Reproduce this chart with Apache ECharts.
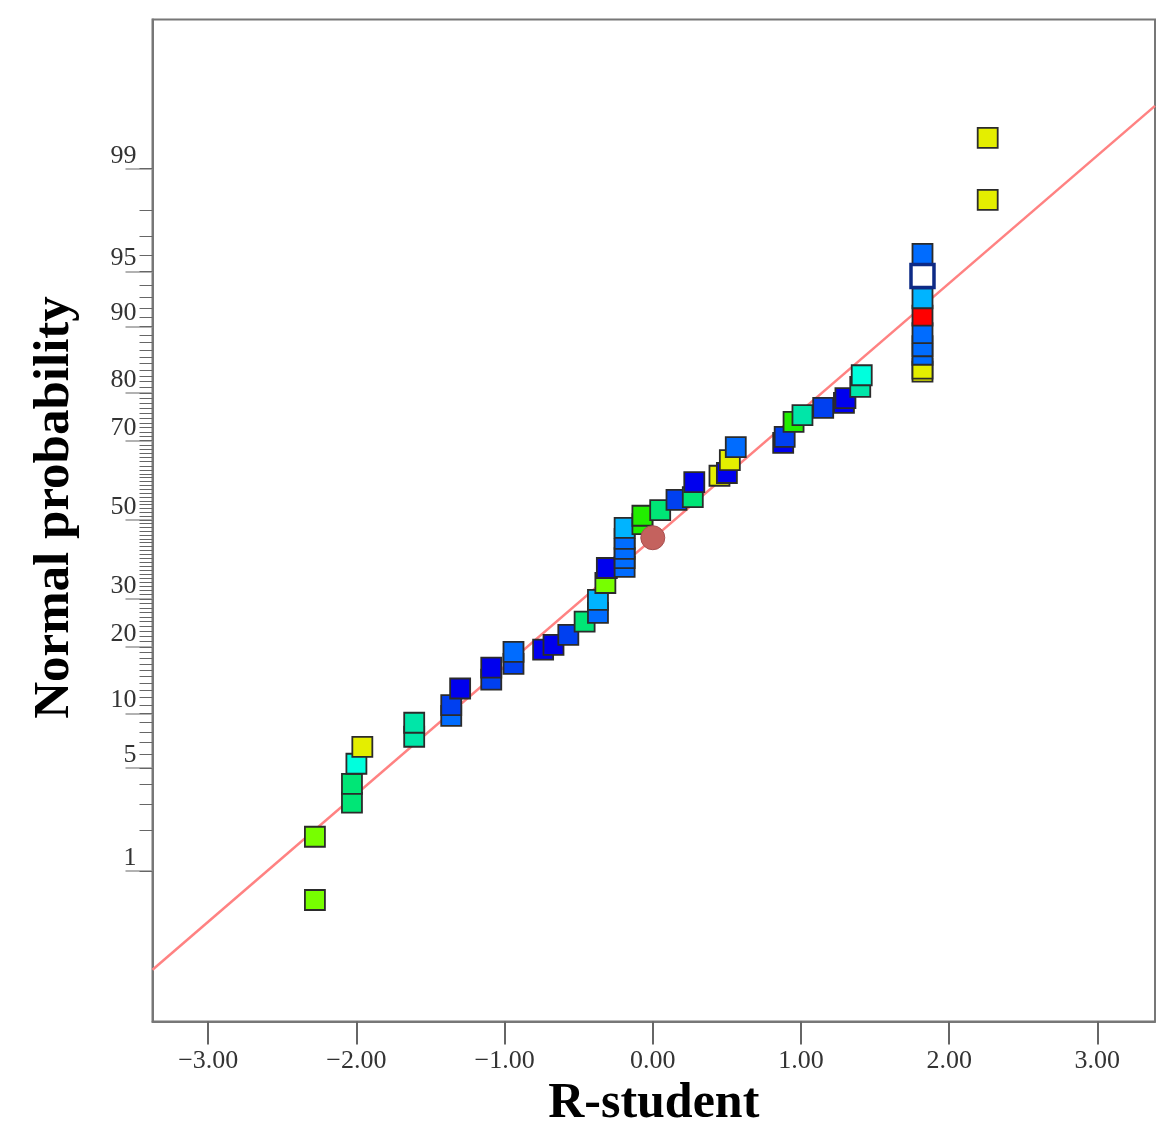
<!DOCTYPE html>
<html>
<head>
<meta charset="utf-8">
<title>Normal probability plot</title>
<script src="https://cdn.jsdelivr.net/npm/echarts@6/dist/echarts.min.js"></script>
<style>
  html, body { margin: 0; padding: 0; background: #fff; }
  #chart { width: 1176px; height: 1140px; }
</style>
</head>
<body>
<div id="chart"></div>
<script>
// residuals (R-student)
var rStudent = [
  -2.28, -2.28, -2.03, -2.03, -2.00, -1.96, -1.61, -1.61, -1.36, -1.36,
  -1.30, -1.09, -1.09, -0.94, -0.94, -0.74, -0.67, -0.57, -0.46, -0.37,
  -0.37, -0.32, -0.31, -0.19, -0.19, -0.19, -0.19, -0.19, -0.07, -0.07,
  0.05, 0.16, 0.27, 0.28, 0.45, 0.50, 0.52, 0.56, 0.88, 0.89,
  0.95, 1.01, 1.15, 1.29, 1.30, 1.40, 1.41, 1.82, 1.82, 1.82,
  1.82, 1.82, 1.82, 1.82, 1.82, 2.26, 2.26
];
// normal probability (%) of each point
var normProb = [
  0.59, 1.79, 3.05, 4.02, 5.31, 6.64, 7.54, 8.95, 9.71, 11.0,
  13.2, 14.5, 16.4, 17.0, 19.1, 19.5, 20.4, 22.3, 25.0, 26.9,
  29.8, 33.8, 37.5, 37.8, 40.0, 42.4, 45.0, 47.9, 48.9, 51.1,
  52.6, 55.3, 56.0, 59.9, 61.5, 62.2, 65.4, 68.5, 69.5, 70.9,
  74.2, 75.6, 77.1, 78.1, 79.0, 81.1, 83.1, 83.7, 84.2, 86.3,
  87.5, 89.2, 91.2, 92.9, 96.1, 98.3, 99.43
];
// colour level of each point (0 = dark blue ... 10 = red)
var colorLevel = [
  8, 8, 6, 6, 4, 9, 5, 5, 2, 1,
  0, 1, 0, 1, 2, 0, 0, 1, 6, 2,
  3, 8, 0, 2, 2, 2, 2, 3, 7, 7,
  6, 1, 6, 0, 9, 0, 9, 2, 0, 1,
  7, 5, 1, 0, 0, 5, 4, 9, 9, 2,
  2, 2, 10, 3, 2, 9, 9
];
// highlighted points
var selectedPoint = [1.82, 94.7];
var circlePoint = [0.00, 45.3];
// fitted normal line
var fitMean = 0.147;
var fitSd = 1.182;

var xTicks = [-3, -2, -1, 0, 1, 2, 3];
var yTickLabels = [1, 5, 10, 20, 30, 50, 70, 80, 90, 95, 99];

var palette = ['#0000ee', '#0040f0', '#006cff', '#00b4ff', '#00ffdd', '#00e6a8',
  '#00e676', '#22ee00', '#77ff00', '#e4ee00', '#ff0000'];

var xMin = -3.376, xMax = 3.389;
var zMin = -3.323, zMax = 3.315;

// inverse normal cdf (Acklam)
function probit(p) {
  var a = [-39.69683028665376, 220.9460984245205, -275.9285104469687, 138.3577518672690, -30.66479806614716, 2.506628277459239];
  var b = [-54.47609879822406, 161.5858368580409, -155.6989798598866, 66.80131188771972, -13.28068155211580];
  var c = [-0.007784894002430293, -0.3223964580411365, -2.400758277161838, -2.549732539343734, 4.374664141464968, 2.938163982698783];
  var d = [0.007784695709041462, 0.3224671290700398, 2.445134137142996, 3.754408661907416];
  var q, r;
  if (p < 0.02425) {
    q = Math.sqrt(-2 * Math.log(p));
    return (((((c[0]*q+c[1])*q+c[2])*q+c[3])*q+c[4])*q+c[5]) / ((((d[0]*q+d[1])*q+d[2])*q+d[3])*q+1);
  }
  if (p > 1 - 0.02425) {
    q = Math.sqrt(-2 * Math.log(1 - p));
    return -(((((c[0]*q+c[1])*q+c[2])*q+c[3])*q+c[4])*q+c[5]) / ((((d[0]*q+d[1])*q+d[2])*q+d[3])*q+1);
  }
  q = p - 0.5;
  r = q * q;
  return (((((a[0]*r+a[1])*r+a[2])*r+a[3])*r+a[4])*r+a[5])*q / (((((b[0]*r+b[1])*r+b[2])*r+b[3])*r+b[4])*r+1);
}

var yMajorZ = yTickLabels.map(function (p) { return probit(p / 100); });
var yMinorZ = [];
for (var i = 1; i <= 99; i++) {
  yMinorZ.push(probit(i / 100));
}

var points = rStudent.map(function (x, i) {
  return [x, probit(normProb[i] / 100), colorLevel[i]];
});
var lineData = [xMin, xMax].map(function (x) {
  return [x, (x - fitMean) / fitSd];
});

var serif = '"Liberation Serif", "Times New Roman", serif';

var chart = echarts.init(document.getElementById('chart'), null, { renderer: 'canvas' });
chart.setOption({
  animation: false,
  backgroundColor: '#fff',
  grid: {
    left: 152.5, top: 19.5, right: 21, bottom: 118.5,
    show: true, borderColor: '#777', borderWidth: 2
  },
  xAxis: {
    type: 'value',
    min: xMin, max: xMax,
    name: 'R-student',
    nameLocation: 'middle',
    nameGap: 58,
    nameTextStyle: { fontFamily: serif, fontWeight: 'bold', fontSize: 50, color: '#000' },
    splitLine: { show: false },
    axisLine: { show: true, onZero: false, lineStyle: { color: '#777', width: 2 } },
    axisTick: { show: true, length: 23, customValues: xTicks, lineStyle: { color: '#666', width: 2 } },
    axisLabel: {
      customValues: xTicks,
      margin: 27,
      fontFamily: serif, fontSize: 26, color: '#333',
      formatter: function (v) {
        return (v < 0 ? '\u2212' : '') + Math.abs(v).toFixed(2);
      }
    }
  },
  yAxis: [{
    type: 'value',
    min: zMin, max: zMax,
    name: 'Normal probability',
    nameLocation: 'middle',
    nameGap: 72,
    nameTextStyle: {
      fontFamily: serif, fontWeight: 'bold', fontSize: 51, color: '#000',
      padding: [0, 0, 0, 26]
    },
    splitLine: { show: false },
    axisLine: { show: true, onZero: false, lineStyle: { color: '#777', width: 2 } },
    axisTick: { show: true, length: 27, customValues: yMajorZ, lineStyle: { color: '#999', width: 1.5 } },
    axisLabel: {
      customValues: yMajorZ,
      margin: 16,
      verticalAlign: 'bottom',
      fontFamily: serif, fontSize: 26, color: '#333',
      formatter: function (v) {
        var best = 0;
        for (var k = 1; k < yMajorZ.length; k++) {
          if (Math.abs(yMajorZ[k] - v) < Math.abs(yMajorZ[best] - v)) best = k;
        }
        return String(yTickLabels[best]);
      }
    }
  }, {
    type: 'value',
    min: zMin, max: zMax,
    position: 'left',
    offset: 0,
    splitLine: { show: false },
    axisLine: { show: false, onZero: false },
    axisTick: { show: true, length: 13, customValues: yMinorZ, lineStyle: { color: '#666', width: 1 } },
    axisLabel: { show: false, customValues: [] }
  }],
  series: [{
    type: 'line',
    data: lineData,
    symbol: 'none',
    silent: true,
    lineStyle: { color: '#ff8282', width: 2.5 },
    z: 2
  }, {
    type: 'scatter',
    data: points,
    symbol: 'rect',
    symbolSize: 20,
    itemStyle: {
      color: function (p) { return palette[p.data[2]]; },
      borderColor: '#2b2b2b',
      borderWidth: 1.8,
      opacity: 1
    },
    z: 3
  }, {
    type: 'scatter',
    data: [[selectedPoint[0], probit(selectedPoint[1] / 100)]],
    symbol: 'rect',
    symbolSize: 23,
    itemStyle: { color: '#ffffff', borderColor: '#0d2a86', borderWidth: 3.5, opacity: 1 },
    z: 4
  }, {
    type: 'scatter',
    data: [[circlePoint[0], probit(circlePoint[1] / 100)]],
    symbol: 'circle',
    symbolSize: 24,
    itemStyle: { color: '#c4625e', borderColor: '#a85050', borderWidth: 1, opacity: 1 },
    z: 4
  }]
});
</script>
</body>
</html>
